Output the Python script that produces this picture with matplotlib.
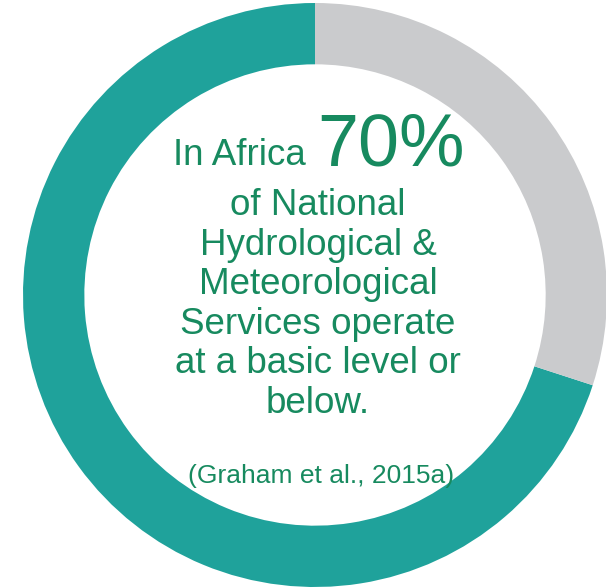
import matplotlib
matplotlib.use('Agg')
import matplotlib.pyplot as plt

# 数据
labels = ['Basic level or below', 'Above basic level']
shares = [70, 30]
colors = ['#1FA29B', '#CACBCD']

headline_lead = 'In Africa'
headline_value = '70%'
body_lines = [
    'of National',
    'Hydrological &',
    'Meteorological',
    'Services operate',
    'at a basic level or',
    'below.',
]
citation = '(Graham et al., 2015a)'

W, H = 606, 588
text_color = '#178A5F'
plt.rcParams['font.family'] = ['Liberation Sans', 'DejaVu Sans']

fig = plt.figure(figsize=(W / 100, H / 100), dpi=100)
ax = fig.add_axes([0, 0, 1, 1])

# 环形图
cx, cy, r = 315, H - 295, 292
ax.pie(shares, colors=colors, startangle=90, counterclock=True,
       radius=r, center=(cx, cy), frame=True,
       wedgeprops=dict(width=r * 0.21, linewidth=0))
ax.set_xlim(0, W)
ax.set_ylim(0, H)
ax.set_aspect('equal')
ax.axis('off')

# 标题行
ax.text(306, H - 165, headline_lead, ha='right', va='baseline',
        fontsize=26.5, color=text_color)
ax.text(317, H - 165, headline_value, ha='left', va='baseline',
        fontsize=53, color=text_color)

# 正文，行距均匀
first, step = 215, 39.6
for i, line in enumerate(body_lines):
    ax.text(318, H - (first + i * step), line, ha='center', va='baseline',
            fontsize=26.5, color=text_color)

ax.text(321, H - 483, citation, ha='center', va='baseline',
        fontsize=19, color=text_color)

fig.savefig('out.png', dpi=100)
